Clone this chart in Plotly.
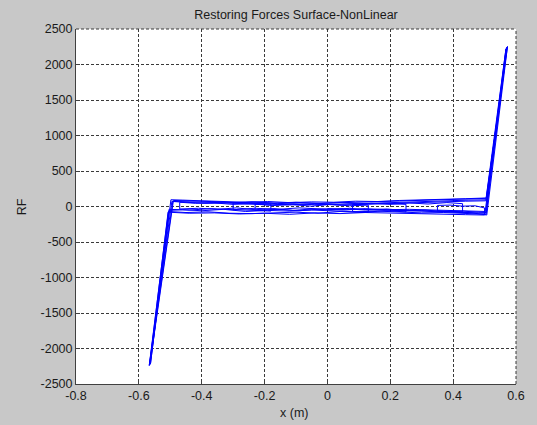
import plotly.graph_objects as go

# ---- data ----
c1_x  = [0.00, 0.06, 0.12, 0.18, 0.24, 0.30, 0.36, 0.42, 0.47, 0.503, 0.571, 0.506, 0.46, 0.40, 0.33, 0.26, 0.19, 0.12, 0.05, -0.02, -0.09, -0.16, -0.23, -0.30, -0.37, -0.44, -0.49, -0.565, -0.503, -0.46, -0.40, -0.33, -0.26, -0.19, -0.12, -0.05, 0.02]
c1_rf = [-30, -45, -40, -55, -60, -58, -70, -75, -82, -95, 2245, 115, 108, 100, 92, 80, 72, 60, 50, 45, 52, 40, 60, 55, 70, 78, 85, -2225, -55, -45, -60, -40, -70, -55, -65, -50, -60]

c2_x  = [0.02, 0.09, 0.16, 0.23, 0.30, 0.37, 0.44, 0.49, 0.505, 0.569, 0.508, 0.45, 0.38, 0.31, 0.24, 0.17, 0.10, 0.03, -0.04, -0.11, -0.18, -0.25, -0.32, -0.39, -0.45, -0.495, -0.567, -0.506, -0.45, -0.38, -0.31, -0.24, -0.17, -0.10]
c2_rf = [-60, -75, -65, -80, -90, -85, -100, -105, -110, 2225, 95, 90, 78, 70, 62, 50, 40, 30, 25, 38, 20, 35, 50, 45, 60, 72, -2240, -70, -85, -75, -95, -100, -90, -80]

c3_x  = [-0.10, -0.03, 0.04, 0.11, 0.18, 0.25, 0.25, 0.18, 0.11, 0.04, -0.03, -0.10, -0.17, -0.24, -0.30, -0.30, -0.23, -0.16, -0.09, -0.02, 0.05, 0.12, 0.19, 0.26, 0.33, 0.40, 0.46, 0.502, 0.568, 0.505, 0.44, 0.37, 0.30, 0.23, 0.16, 0.09, 0.02, -0.05, -0.12, -0.19, -0.26, -0.33, -0.40, -0.46, -0.498, -0.563, -0.504, -0.44, -0.37, -0.30, -0.23, -0.16, -0.09, -0.02, 0.05]
c3_rf = [-80, -95, -70, -85, -60, -75, 30, 45, 35, 55, 40, 60, 50, 65, 55, -45, -55, -40, -60, -35, -50, -30, -45, -40, -50, -55, -65, -70, 2220, 120, 110, 105, 90, 85, 70, 75, 60, 65, 55, 70, 60, 75, 80, 90, 95, -2215, -40, -50, -30, -45, -25, -40, -20, -35, -30]

c4_x  = [0.05, 0.12, 0.19, 0.26, 0.33, 0.40, 0.46, 0.50, 0.507, 0.573, 0.504, 0.44, 0.36, 0.28, 0.20, 0.12, 0.04, -0.04, -0.12, -0.20, -0.28, -0.36, -0.44, -0.492, -0.566, -0.507, -0.44, -0.36, -0.28, -0.20, -0.12, -0.04, 0.04, 0.12, 0.20, 0.28, 0.36, 0.44, 0.50]
c4_rf = [-30, -50, -45, -60, -70, -80, -90, -115, -120, 2255, 80, 75, 65, 50, 45, 30, 20, 35, 25, 40, 45, 55, 65, 70, -2235, -80, -95, -90, -105, -95, -110, -90, -100, -85, -95, -100, -110, -115, -120]

c5_x  = [0.50, 0.47, 0.43, 0.39, 0.35, 0.35, 0.39, 0.43, 0.43, 0.38, 0.32, 0.26, 0.20, 0.14, 0.08, 0.08, 0.13, 0.13, 0.07, 0.01, -0.05, -0.11, -0.17, -0.23, -0.23, -0.18, -0.18, -0.24, -0.30, -0.36, -0.42, -0.47, -0.47, -0.41, -0.35, -0.29, -0.23, -0.17, -0.11, -0.05, 0.01, 0.07, 0.13, 0.19, 0.25, 0.31, 0.37, 0.43, 0.48, 0.505, 0.571]
c5_rf = [-20, 10, 5, 20, 15, -60, -70, -75, 40, 55, 35, 50, 30, 45, 25, -70, -80, 20, 10, 30, 5, 25, 15, 35, -55, -65, 35, 40, 30, 50, 45, 60, -35, -25, -40, -20, -45, -30, -55, -35, -50, -25, -45, -35, -60, -50, -70, -65, -80, -85, 2240]

x_ticks = [-0.8, -0.6, -0.4, -0.2, 0.0, 0.2, 0.4, 0.6]
x_tick_labels = ["-0.8", "-0.6", "-0.4", "-0.2", "0", "0.2", "0.4", "0.6"]
y_ticks = [-2500, -2000, -1500, -1000, -500, 0, 500, 1000, 1500, 2000, 2500]
y_tick_labels = ["-2500", "-2000", "-1500", "-1000", "-500", "0", "500", "1000", "1500", "2000", "2500"]

x_all = c1_x + c2_x + c3_x + c4_x + c5_x
rf_all = c1_rf + c2_rf + c3_rf + c4_rf + c5_rf

FONT = "Liberation Sans, Arial, sans-serif"
TXT = "#1a1a1a"
GRID = "#3a3a3a"
DASH = "3px,2px"

fig = go.Figure()
fig.add_trace(go.Scatter(x=x_all, y=rf_all, mode="lines",
                         line=dict(color="#0000FF", width=1),
                         hoverinfo="skip", showlegend=False))

axis_common = dict(
    showgrid=True, gridcolor=GRID, gridwidth=1, griddash=DASH,
    zeroline=False, showline=True, linecolor="#404040", linewidth=1,
    mirror=False, ticks="inside", ticklen=4, tickcolor="#404040",
    tickfont=dict(family=FONT, size=12.5, color=TXT),
)

fig.update_xaxes(range=[-0.8, 0.6], tickvals=x_ticks, ticktext=x_tick_labels, **axis_common)
fig.update_yaxes(range=[-2500, 2500], tickvals=y_ticks, ticktext=y_tick_labels, **axis_common)

# dotted grid lines along the top and right edges of the box (MATLAB draws them)
edge = dict(type="line", xref="paper", yref="paper", layer="above",
            line=dict(color=GRID, width=1, dash=DASH))
fig.add_shape(x0=0, x1=1, y0=1, y1=1, **edge)
fig.add_shape(x0=1, x1=1, y0=0, y1=1, **edge)

fig.update_layout(
    width=537, height=425,
    margin=dict(l=76, r=15, t=29, b=41, pad=0),
    paper_bgcolor="#C8C8C8", plot_bgcolor="#FFFFFF",
    title=dict(text="Restoring Forces Surface-NonLinear", x=0.5, xref="paper",
               y=1 - 15 / 425, yref="container", yanchor="middle",
               font=dict(family=FONT, size=12.5, color=TXT)),
    annotations=[
        dict(text="RF", xref="paper", yref="paper",
             x=(21 - 76) / 446, y=(384.3 - 206.7) / 355.3,
             xanchor="center", yanchor="middle", textangle=-90, showarrow=False,
             font=dict(family=FONT, size=12.5, color=TXT)),
        dict(text="x (m)", xref="paper", yref="paper",
             x=(296.7 - 76) / 446, y=(384.3 - 413) / 355.3,
             xanchor="center", yanchor="middle", showarrow=False,
             font=dict(family=FONT, size=12.5, color=TXT)),
    ],
)

fig.write_html("out.html")
